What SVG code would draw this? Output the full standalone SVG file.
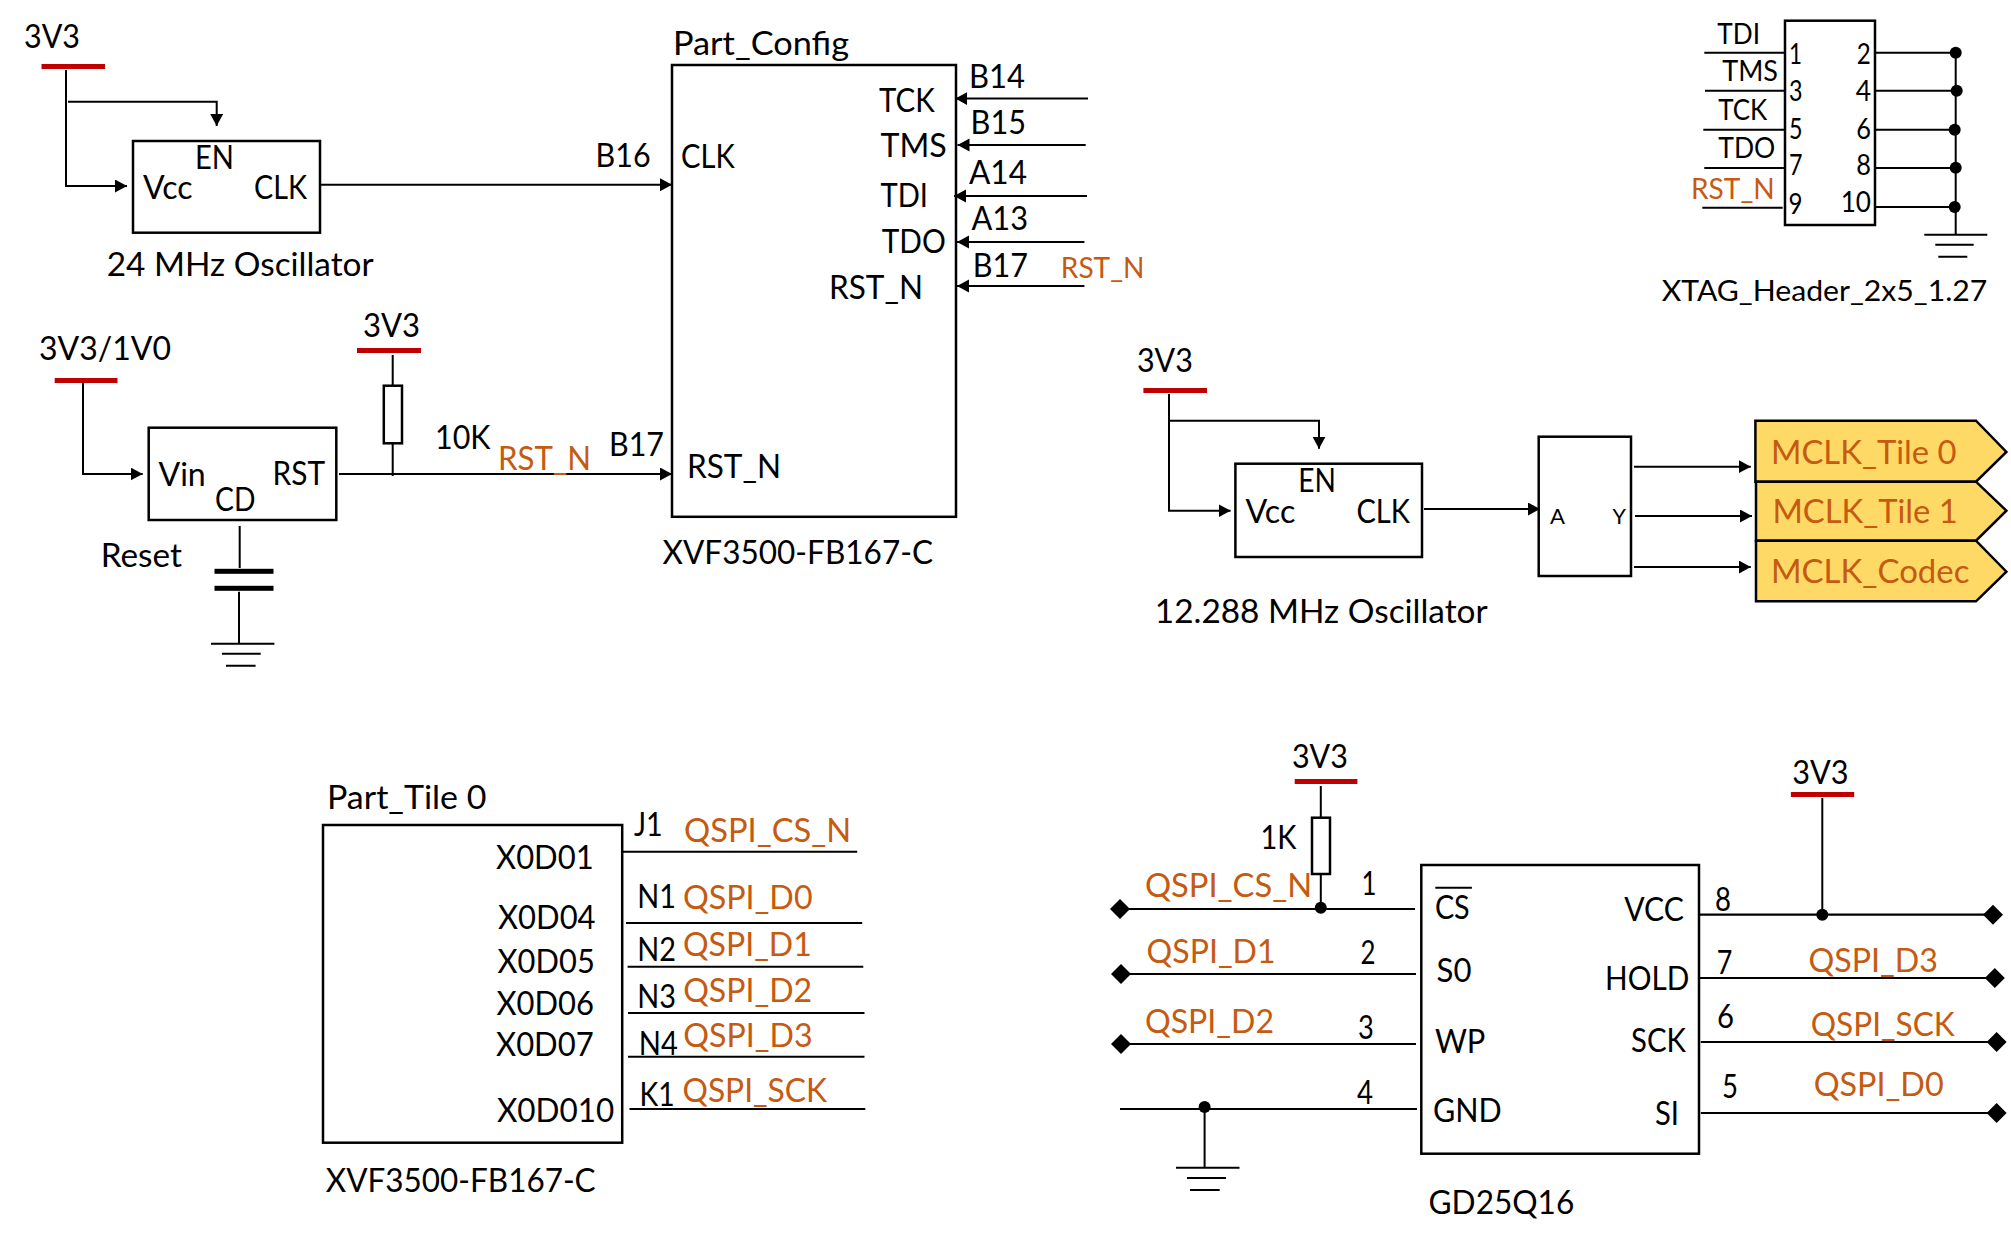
<svg xmlns="http://www.w3.org/2000/svg" width="2011" height="1247" viewBox="0 0 2011 1247">
<style>
text{font-family:"Lato","Open Sans","Liberation Sans",sans-serif;font-size:32px;fill:#000;white-space:pre;transform:translate(-1px,1px)}
.o{fill:#c55a11}
.s{font-size:28.5px}
.t{font-size:22px}
.box{fill:none;stroke:#000;stroke-width:2.5}
.tag{fill:#ffd966;stroke:#000;stroke-width:2.5}
.bar{fill:#c00000}
.plate{fill:#000}
.w{fill:none;stroke:#000;stroke-width:2}
.w2{fill:none;stroke:#000;stroke-width:2.2}
.a{marker-end:url(#arrow)}
</style>
<defs>
<marker id="arrow" markerUnits="userSpaceOnUse" markerWidth="13" markerHeight="14" refX="12" refY="6.5" orient="auto"><path d="M0,0 L12,6.5 L0,13 Z" fill="#000"/></marker>
<path id="dia" d="M-10,0 L0,-10 L10,0 L0,10 Z" fill="#000"/>
<circle id="dot" r="6" fill="#000"/>
</defs>
<rect width="2011" height="1247" fill="#fff"/>
<g id="connectors">
<path class="w a" d="M66,70 V186 H127"/>
<path class="w a" d="M68,101.7 H216.7 V126"/>
<path class="w a" d="M320,184.7 H672"/>
<path class="w" d="M392.7,355 V385.7 M392.7,443.3 V476"/>
<path class="w a" d="M83,381 V474 H142.7"/>
<path class="w a" d="M339,474 H672"/>
<path class="w" d="M239.7,526 V568 M239,591.7 V643.7"/>
<path class="w a" d="M1088,98.6 H955.4"/>
<path class="w a" d="M1085.7,145 H957.5"/>
<path class="w a" d="M1087,196 H954"/>
<path class="w a" d="M1084.4,242 H957"/>
<path class="w a" d="M1084.4,286 H957"/>
<path class="w a" d="M1169,394 V510.7 H1230.6"/>
<path class="w a" d="M1169,420.7 H1319 V448.7"/>
<path class="w a" d="M1424,509 H1540"/>
<path class="w a" d="M1634,466.7 H1750.8"/>
<path class="w a" d="M1635,516 H1752"/>
<path class="w a" d="M1634,567 H1750.8"/>
<path class="w" d="M1704.3,52.7 H1785 M1705,90.7 H1785 M1703.3,129.7 H1785 M1704.3,168 H1785 M1702.3,207.7 H1782.7"/>
<path class="w" d="M1875,52.7 H1955.7 M1875,90.7 H1956.7 M1875,129.7 H1954.7 M1875,168 H1955.7 M1875,207 H1954.7 M1955.7,52.7 V234.7"/>
<path class="w" d="M622,851.7 H857.2 M626,923 H862.2 M627.6,966.7 H863.3 M628,1013 H864.5 M628,1056.7 H864.5 M629.5,1109 H865.3"/>
<path class="w" d="M1320.8,786 V817.7 M1320.8,874 V907.7"/>
<path class="w2" d="M1120,909 H1415 M1121,974 H1416 M1121,1044 H1416 M1120,1109 H1417"/>
<path class="w" d="M1204.6,1107 V1167.7"/>
<path class="w2" d="M1699.6,914.7 H1993 M1699.6,978 H1994.8 M1700.8,1042 H1996.6 M1700.8,1113 H1996.6"/>
<path class="w" d="M1822.3,798 V914.7"/>
<use href="#dia" x="1120" y="909"/><use href="#dia" x="1121" y="974"/><use href="#dia" x="1121" y="1044"/>
<use href="#dia" x="1993" y="914.7"/><use href="#dia" x="1994.8" y="978"/><use href="#dia" x="1996.6" y="1042"/><use href="#dia" x="1996.6" y="1113"/>
<use href="#dot" x="1955.7" y="52.7"/><use href="#dot" x="1956.7" y="90.7"/><use href="#dot" x="1954.7" y="129.7"/><use href="#dot" x="1955.7" y="167.7"/><use href="#dot" x="1954.7" y="207"/>
<use href="#dot" x="1320.8" y="907.7"/><use href="#dot" x="1204.6" y="1107"/><use href="#dot" x="1822.3" y="914.7"/>
</g>
<g id="net-labels">
<text x="596.6" y="166" textLength="55" lengthAdjust="spacingAndGlyphs">B16</text>
<text x="436" y="447.7" textLength="55.5" lengthAdjust="spacingAndGlyphs">10K</text>
<text class="o" x="499" y="469.3" textLength="93" lengthAdjust="spacingAndGlyphs">RST_N</text>
<text x="610" y="455" textLength="55" lengthAdjust="spacingAndGlyphs">B17</text>
<text x="970" y="86.8" textLength="56" lengthAdjust="spacingAndGlyphs">B14</text>
<text x="971.6" y="132.9" textLength="55.4" lengthAdjust="spacingAndGlyphs">B15</text>
<text x="970" y="182.9" textLength="58" lengthAdjust="spacingAndGlyphs">A14</text>
<text x="972.5" y="228.6" textLength="56.5" lengthAdjust="spacingAndGlyphs">A13</text>
<text x="973.8" y="276" textLength="55.2" lengthAdjust="spacingAndGlyphs">B17</text>
<text class="o s" x="1061.8" y="276.8" textLength="83.7" lengthAdjust="spacingAndGlyphs">RST_N</text>
<text x="634.9" y="835" textLength="28.7" lengthAdjust="spacingAndGlyphs">J1</text>
<text x="638.3" y="907" textLength="38.7" lengthAdjust="spacingAndGlyphs">N1</text>
<text x="638.3" y="960" textLength="38.7" lengthAdjust="spacingAndGlyphs">N2</text>
<text x="638.3" y="1007" textLength="38.7" lengthAdjust="spacingAndGlyphs">N3</text>
<text x="639.8" y="1053.7" textLength="39.1" lengthAdjust="spacingAndGlyphs">N4</text>
<text x="640.6" y="1105.3" textLength="35.2" lengthAdjust="spacingAndGlyphs">K1</text>
<text class="o" x="685" y="841" textLength="167.2" lengthAdjust="spacingAndGlyphs">QSPI_CS_N</text>
<text class="o" x="683.9" y="908" textLength="129.7" lengthAdjust="spacingAndGlyphs">QSPI_D0</text>
<text class="o" x="683.9" y="955" textLength="128.9" lengthAdjust="spacingAndGlyphs">QSPI_D1</text>
<text class="o" x="684.2" y="1001" textLength="129" lengthAdjust="spacingAndGlyphs">QSPI_D2</text>
<text class="o" x="684.2" y="1046" textLength="129.4" lengthAdjust="spacingAndGlyphs">QSPI_D3</text>
<text class="o" x="683.5" y="1101.3" textLength="144.5" lengthAdjust="spacingAndGlyphs">QSPI_SCK</text>
<text x="1261.5" y="847.7" textLength="36" lengthAdjust="spacingAndGlyphs">1K</text>
<text class="o" x="1145.9" y="896.3" textLength="167.3" lengthAdjust="spacingAndGlyphs">QSPI_CS_N</text>
<text x="1362.6" y="894.3" textLength="15" lengthAdjust="spacingAndGlyphs">1</text>
<text class="o" x="1147.6" y="961.7" textLength="129" lengthAdjust="spacingAndGlyphs">QSPI_D1</text>
<text x="1361.5" y="963.3" textLength="15" lengthAdjust="spacingAndGlyphs">2</text>
<text class="o" x="1146" y="1032.3" textLength="129" lengthAdjust="spacingAndGlyphs">QSPI_D2</text>
<text x="1359" y="1038.3" textLength="15.8" lengthAdjust="spacingAndGlyphs">3</text>
<text x="1358" y="1103.3" textLength="16" lengthAdjust="spacingAndGlyphs">4</text>
<text x="1716" y="910.3" textLength="16" lengthAdjust="spacingAndGlyphs">8</text>
<text x="1717.7" y="973.3" textLength="15.6" lengthAdjust="spacingAndGlyphs">7</text>
<text x="1718" y="1027.3" textLength="17" lengthAdjust="spacingAndGlyphs">6</text>
<text x="1722.9" y="1097" textLength="16" lengthAdjust="spacingAndGlyphs">5</text>
<text class="o" x="1809.5" y="970.7" textLength="129.5" lengthAdjust="spacingAndGlyphs">QSPI_D3</text>
<text class="o" x="1811.8" y="1035" textLength="144" lengthAdjust="spacingAndGlyphs">QSPI_SCK</text>
<text class="o" x="1814.7" y="1095.3" textLength="130" lengthAdjust="spacingAndGlyphs">QSPI_D0</text>
</g>
<g id="pwr-1"><text x="25" y="47" textLength="56" lengthAdjust="spacingAndGlyphs">3V3</text><rect class="bar" x="41.5" y="64" width="63.5" height="5"/></g>
<g id="pwr-2"><text x="364" y="336" textLength="57" lengthAdjust="spacingAndGlyphs">3V3</text><rect class="bar" x="357" y="348" width="64" height="5"/></g>
<g id="pwr-3"><text x="40" y="359" textLength="132" lengthAdjust="spacingAndGlyphs">3V3/1V0</text><rect class="bar" x="54.7" y="378" width="62.8" height="5"/></g>
<g id="pwr-4"><text x="1137.9" y="371.4" textLength="56" lengthAdjust="spacingAndGlyphs">3V3</text><rect class="bar" x="1143.4" y="388" width="63.6" height="5"/></g>
<g id="pwr-5"><text x="1292.9" y="767.3" textLength="56" lengthAdjust="spacingAndGlyphs">3V3</text><rect class="bar" x="1294.7" y="779" width="62.7" height="5"/></g>
<g id="pwr-6"><text x="1793.2" y="783.3" textLength="56.3" lengthAdjust="spacingAndGlyphs">3V3</text><rect class="bar" x="1790.9" y="792" width="63.3" height="5"/></g>
<g id="osc-24">
<rect class="box" x="133" y="141" width="187" height="91.7"/>
<text x="196" y="168" textLength="39" lengthAdjust="spacingAndGlyphs">EN</text>
<text x="144" y="198" textLength="49.6" lengthAdjust="spacingAndGlyphs">Vcc</text>
<text x="255" y="198" textLength="53" lengthAdjust="spacingAndGlyphs">CLK</text>
<text x="107.7" y="275" textLength="267" lengthAdjust="spacingAndGlyphs">24 MHz Oscillator</text>
</g>
<g id="reset">
<rect class="box" x="148.7" y="427.7" width="187.6" height="92.3"/>
<text x="159.4" y="485" textLength="47.4" lengthAdjust="spacingAndGlyphs">Vin</text>
<text x="216" y="510" textLength="40.4" lengthAdjust="spacingAndGlyphs">CD</text>
<text x="273.5" y="484.3" textLength="52.5" lengthAdjust="spacingAndGlyphs">RST</text>
<text x="101.7" y="566" textLength="81.3" lengthAdjust="spacingAndGlyphs">Reset</text>
</g>
<g id="res-10k"><rect class="box" x="383.8" y="385.7" width="18.2" height="57.6"/></g>
<g id="cap"><rect class="plate" x="214.5" y="568.8" width="59" height="5"/><rect class="plate" x="214.5" y="585.8" width="59" height="5"/></g>
<g id="gnd-1"><path class="w" d="M211,643.7 H274.4 M222,653.7 H260.7 M226,665.7 H255.6"/></g>
<g id="part-config">
<rect class="box" x="672" y="65" width="284" height="451.8"/>
<text x="674" y="53.6" textLength="176" lengthAdjust="spacingAndGlyphs">Part_Config</text>
<text x="682" y="167" textLength="53.7" lengthAdjust="spacingAndGlyphs">CLK</text>
<text x="880" y="110.7" textLength="55.7" lengthAdjust="spacingAndGlyphs">TCK</text>
<text x="881.5" y="156.4" textLength="66.2" lengthAdjust="spacingAndGlyphs">TMS</text>
<text x="881.5" y="206.4" textLength="47.5" lengthAdjust="spacingAndGlyphs">TDI</text>
<text x="882.7" y="252" textLength="64.1" lengthAdjust="spacingAndGlyphs">TDO</text>
<text x="830" y="298" textLength="94" lengthAdjust="spacingAndGlyphs">RST_N</text>
<text x="688" y="476.8" textLength="94" lengthAdjust="spacingAndGlyphs">RST_N</text>
<text x="663.5" y="562.5" textLength="270.5" lengthAdjust="spacingAndGlyphs">XVF3500-FB167-C</text>
</g>
<g id="osc-12">
<rect class="box" x="1235.4" y="463.7" width="186.6" height="93.3"/>
<text x="1299.3" y="491" textLength="37.7" lengthAdjust="spacingAndGlyphs">EN</text>
<text x="1246.4" y="521.7" textLength="50" lengthAdjust="spacingAndGlyphs">Vcc</text>
<text x="1357.4" y="521.7" textLength="53.5" lengthAdjust="spacingAndGlyphs">CLK</text>
<text x="1155.8" y="622.3" textLength="332.9" lengthAdjust="spacingAndGlyphs">12.288 MHz Oscillator</text>
</g>
<g id="buffer">
<rect class="box" x="1538.7" y="436.7" width="92.3" height="139.3"/>
<text class="t" x="1551" y="523.3" textLength="15" lengthAdjust="spacingAndGlyphs">A</text>
<text class="t" x="1613.6" y="523.3" textLength="13.4" lengthAdjust="spacingAndGlyphs">Y</text>
</g>
<g id="mclk-tile0"><path class="tag" d="M1755.4,420.7 H1976 L2006.4,452 L1976,481.7 H1755.4 Z"/><text class="o" x="1772" y="463.3" textLength="185.6" lengthAdjust="spacingAndGlyphs">MCLK_Tile 0</text></g>
<g id="mclk-tile1"><path class="tag" d="M1756,481.7 H1976 L2006.4,510.7 L1976,540.7 H1756 Z"/><text class="o" x="1773.4" y="522" textLength="185.4" lengthAdjust="spacingAndGlyphs">MCLK_Tile 1</text></g>
<g id="mclk-codec"><path class="tag" d="M1756,540.7 H1976 L2006.4,571.7 L1976,601.3 H1756 Z"/><text class="o" x="1772" y="582.3" textLength="198.4" lengthAdjust="spacingAndGlyphs">MCLK_Codec</text></g>
<g id="xtag-header">
<rect class="box" x="1785" y="20.7" width="90" height="204.3"/>
<text class="s" x="1718.3" y="42.7" textLength="42.7" lengthAdjust="spacingAndGlyphs">TDI</text>
<text class="s" x="1723.3" y="80" textLength="55.7" lengthAdjust="spacingAndGlyphs">TMS</text>
<text class="s" x="1719.3" y="119.3" textLength="49" lengthAdjust="spacingAndGlyphs">TCK</text>
<text class="s" x="1719.3" y="157.3" textLength="57" lengthAdjust="spacingAndGlyphs">TDO</text>
<text class="o s" x="1692" y="198.3" textLength="83.7" lengthAdjust="spacingAndGlyphs">RST_N</text>
<text class="s" x="1790" y="63.3" textLength="13" lengthAdjust="spacingAndGlyphs">1</text>
<text class="s" x="1857.7" y="63.3" textLength="14" lengthAdjust="spacingAndGlyphs">2</text>
<text class="s" x="1790" y="100" textLength="13.5" lengthAdjust="spacingAndGlyphs">3</text>
<text class="s" x="1856.7" y="100" textLength="15.3" lengthAdjust="spacingAndGlyphs">4</text>
<text class="s" x="1790" y="137.7" textLength="13.5" lengthAdjust="spacingAndGlyphs">5</text>
<text class="s" x="1857.3" y="137.7" textLength="14.7" lengthAdjust="spacingAndGlyphs">6</text>
<text class="s" x="1790" y="174" textLength="13.5" lengthAdjust="spacingAndGlyphs">7</text>
<text class="s" x="1857.3" y="174" textLength="14.7" lengthAdjust="spacingAndGlyphs">8</text>
<text class="s" x="1789.5" y="212.7" textLength="14" lengthAdjust="spacingAndGlyphs">9</text>
<text class="s" x="1841.7" y="210.7" textLength="30.3" lengthAdjust="spacingAndGlyphs">10</text>
<text class="s" x="1662.7" y="300" textLength="325.6" lengthAdjust="spacingAndGlyphs">XTAG_Header_2x5_1.27</text>
</g>
<g id="gnd-2"><path class="w" d="M1924.3,234.7 H1987.3 M1935.3,244.7 H1973.7 M1938.3,256.7 H1967.3"/></g>
<g id="part-tile0">
<rect class="box" x="323" y="825" width="299.2" height="317.7"/>
<text x="328" y="808.3" textLength="159.5" lengthAdjust="spacingAndGlyphs">Part_Tile 0</text>
<text x="497" y="868.3" textLength="97.7" lengthAdjust="spacingAndGlyphs">X0D01</text>
<text x="499" y="928.3" textLength="97.6" lengthAdjust="spacingAndGlyphs">X0D04</text>
<text x="498.6" y="972.3" textLength="97.2" lengthAdjust="spacingAndGlyphs">X0D05</text>
<text x="497.5" y="1014.3" textLength="97.5" lengthAdjust="spacingAndGlyphs">X0D06</text>
<text x="497" y="1055" textLength="97.7" lengthAdjust="spacingAndGlyphs">X0D07</text>
<text x="497.9" y="1121" textLength="117.4" lengthAdjust="spacingAndGlyphs">X0D010</text>
<text x="326.8" y="1191" textLength="269.8" lengthAdjust="spacingAndGlyphs">XVF3500-FB167-C</text>
</g>
<g id="res-1k"><rect class="box" x="1312" y="817.7" width="18" height="56.3"/></g>
<g id="flash">
<rect class="box" x="1421.3" y="865" width="277.7" height="288.7"/>
<path class="w" d="M1435.3,887.7 H1471.9"/>
<text x="1435.9" y="918.3" textLength="34.8" lengthAdjust="spacingAndGlyphs">CS</text>
<text x="1437.6" y="980.7" textLength="34.9" lengthAdjust="spacingAndGlyphs">S0</text>
<text x="1435.9" y="1051.7" textLength="50.5" lengthAdjust="spacingAndGlyphs">WP</text>
<text x="1434" y="1120.7" textLength="68.7" lengthAdjust="spacingAndGlyphs">GND</text>
<text x="1625.3" y="920" textLength="59.7" lengthAdjust="spacingAndGlyphs">VCC</text>
<text x="1606" y="989.3" textLength="84.3" lengthAdjust="spacingAndGlyphs">HOLD</text>
<text x="1632" y="1051" textLength="54.9" lengthAdjust="spacingAndGlyphs">SCK</text>
<text x="1656" y="1124.3" textLength="24" lengthAdjust="spacingAndGlyphs">SI</text>
<text x="1429.5" y="1213.3" textLength="145.8" lengthAdjust="spacingAndGlyphs">GD25Q16</text>
</g>
<g id="gnd-3"><path class="w" d="M1176,1167.7 H1239.5 M1187,1178 H1226 M1190,1190 H1219.7"/></g>
</svg>
